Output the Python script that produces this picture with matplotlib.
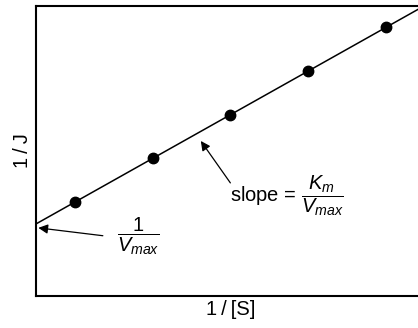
import matplotlib
matplotlib.use("Agg")
import matplotlib.pyplot as plt
import numpy as np

# Lineweaver-Burk plot: 1/J against 1/[S]
inv_s = [0.5, 1.5, 2.5, 3.5, 4.5]
inv_j = [2.15, 3.15, 4.15, 5.15, 6.15]

plt.rcParams['font.family'] = ['Liberation Sans', 'DejaVu Sans']
plt.rcParams['mathtext.fontset'] = 'custom'
plt.rcParams['mathtext.rm'] = 'Liberation Sans'
plt.rcParams['mathtext.it'] = 'Liberation Sans:italic'
plt.rcParams['mathtext.sf'] = 'Liberation Sans'

fig = plt.figure(figsize=(4.18, 3.28), dpi=100)
ax = fig.add_axes([0.0861, 0.0976, 0.930, 0.884])

# straight-line fit through the points, extended back to the y axis
slope, intercept = np.polyfit(inv_s, inv_j, 1)
xs = np.array([0.0, 5.0])
ax.plot(xs, intercept + slope * xs, color='black', lw=1.1, zorder=2)
ax.plot(inv_s, inv_j, 'o', color='black', ms=7.5, zorder=3)

ax.set_xlim(0, 5.0)
ax.set_ylim(0, 6.64)
ax.set_xticks([])
ax.set_yticks([])
for side in ['left', 'bottom', 'top']:
    ax.spines[side].set_linewidth(1.5)
ax.spines['right'].set_visible(False)

ax.set_xlabel('1\u2009/\u2009[S]', fontsize=14.5, labelpad=3)
ax.set_ylabel('1\u2009/\u2009J', fontsize=14.5, labelpad=3)

arrow = dict(arrowstyle='-|>', color='black', lw=0.9, mutation_scale=14,
             shrinkA=0, shrinkB=0)

# slope annotation
ax.annotate('', xy=(2.12, 3.55), xytext=(2.50, 2.59), arrowprops=arrow)
ax.text(2.49, 2.30, r'slope = $\dfrac{K_m}{V_{max}}$', fontsize=14.5,
        ha='left', va='center')

# intercept annotation
ax.annotate('', xy=(0.03, 1.56), xytext=(0.86, 1.38), arrowprops=arrow)
ax.text(1.31, 1.38, r'$\dfrac{1}{V_{max}}$', fontsize=14.5,
        ha='center', va='center')

fig.savefig('out.png', dpi=100)
